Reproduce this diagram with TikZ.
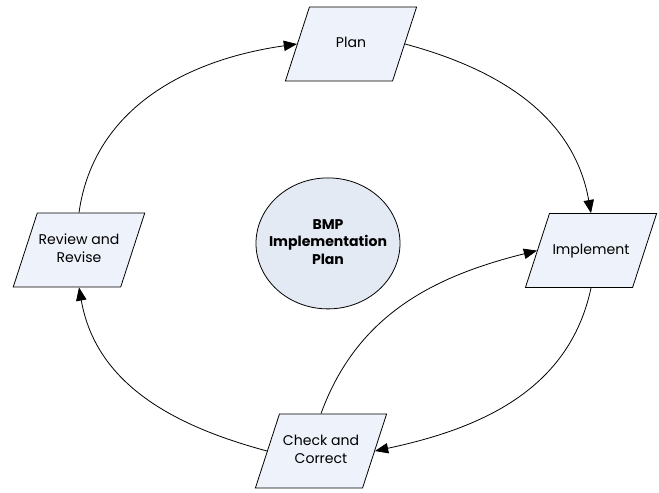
\documentclass[tikz,border=0pt]{standalone}
\usepackage{fontspec}
\setmainfont{Poppins}
\usetikzlibrary{shapes.geometric,arrows.meta}
\definecolor{boxfill}{RGB}{238,242,250}
\definecolor{ovalfill}{RGB}{227,234,244}
% fixed height for the stage boxes, so the slant stays the same
\newcommand{\stagetext}[1]{\rule[\dimexpr-0.925cm+0.25em\relax]{0pt}{1.85cm}\begin{tabular}{@{}c@{}}#1\end{tabular}}

\begin{document}
\begin{tikzpicture}[
	stage/.style={trapezium, trapezium left angle=72, trapezium right angle=108,
		trapezium stretches body, minimum width=3.28cm, inner ysep=0pt, inner xsep=1pt,
		draw=black, fill=boxfill, line width=0.2mm,
		font=\fontsize{10}{12.5}\selectfont},
	cycle/.style={line width=0.2mm, -{Triangle[length=3.3mm,width=2.6mm]}}
	]
			\useasboundingbox (0,0) rectangle (16.475,12.325);
			\node[stage] (1) at(8.775,11.225){\stagetext{Plan}};
			\node[stage] (2) at(14.775,6.06){\stagetext{Implement}};
			\node[stage] (3) at(8.025,1.05){\stagetext{Check and\\Correct}};
			\node[stage] (4) at(1.975,6.075){\stagetext{Review and\\Revise}};
			\node[ellipse,
			minimum width = 3.6cm,
			minimum height = 3.275cm, inner sep=0pt, draw=black, fill=ovalfill, line width=0.2mm,
			font=\fontsize{10}{12.5}\selectfont\bfseries] (5) at(8.2,6.24){\makebox[0pt]{\begin{tabular}{@{}c@{}}BMP\\Implementation\\Plan\end{tabular}}};
			\draw[cycle] (4.center |- 4.north) to[out=82,in=188] (1.west);
			\draw[cycle] (1.east) to[out=-15,in=100] (2.center |- 2.north);
			\draw[cycle] (2.center |- 2.south) to[out=-102,in=12] (3.east);
			\draw[cycle] (3.center |- 3.north) to[out=70,in=194] (2.west);
			\draw[cycle] (3.west) to[out=165,in=-80] (4.center |- 4.south);
		\end{tikzpicture}
\end{document}
